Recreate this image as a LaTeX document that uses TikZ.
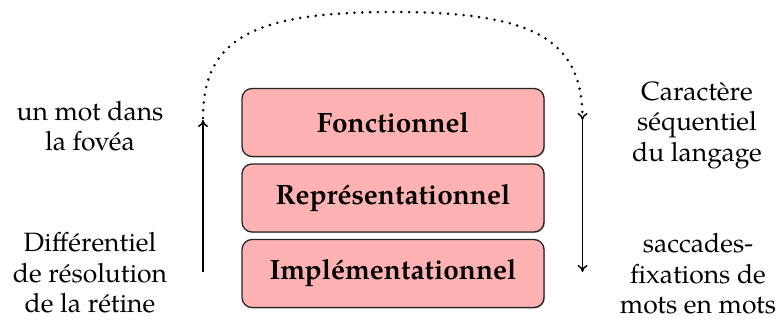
\documentclass[tikz,border=0pt]{standalone}
\usepackage{fontspec}
\setmainfont{TeX Gyre Pagella}
\usetikzlibrary{shadows,arrows.meta}
\begin{document}
\begin{tikzpicture}[x=1pt,y=1pt,
  >={To[length=7pt,width=10pt,line width=1.4pt]},
  level/.style={draw=black!85, line width=1.3pt, fill=red!30, rounded corners=10pt,
    minimum width=302pt, minimum height=68pt, inner sep=0pt,
    font=\fontsize{28}{30}\selectfont\bfseries,
    drop shadow={shadow xshift=1pt, shadow yshift=-1pt, opacity=0.45, fill=black!60}},
  side/.style={align=center, inner sep=0pt, font=\fontsize{26.5}{30.5}\selectfont},
  arr/.style={->, line width=1.6pt},
  dots/.style={->, line width=2.8pt, dash pattern=on 0pt off 7.8pt, line cap=round}]
\useasboundingbox (0,0) rectangle (777,322);
\node[level] (f) at (393,199.5) {Fonctionnel};
\node[level] (r) at (393,124) {Représentationnel};
\node[level] (i) at (393,48.5) {Implémentationnel};
\coordinate (la) at (203,50);
\coordinate (lb) at (203,202);
\coordinate (rb) at (582.5,202);
\coordinate (ra) at (582.5,50);
\coordinate (ls) at (203,204);
\coordinate (re) at (582.5,202);
\draw[arr] (la) -- (lb);
\draw[arr] (rb) -- (ra);
\draw[dots] (ls) .. controls (203,285) and (255.75,310) .. (392.75,310) .. controls (529.75,310) and (582.5,285) .. (re);
\node[side] (t1) at (90,196) {un mot dans\\la fovéa};
\node[side] (t2) at (90,49) {Différentiel\\de résolution\\de la rétine};
\node[side] (t3) at (697,197) {Caractère\\séquentiel\\du langage};
\node[side] (t4) at (698,48.25) {saccades-\\fixations de\\mots en mots};
\end{tikzpicture}
\end{document}
